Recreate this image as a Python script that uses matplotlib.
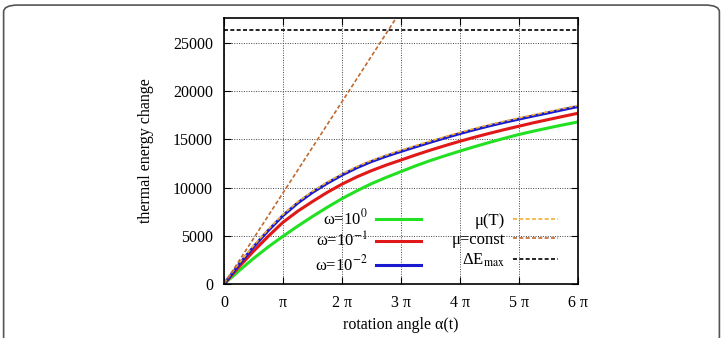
import numpy as np
import matplotlib.pyplot as plt
from matplotlib.patches import FancyBboxPatch

plt.rcParams['font.family'] = ['Liberation Serif', 'DejaVu Serif']
plt.rcParams['mathtext.fontset'] = 'stix'

# rotation angle in units of pi
alpha = [0, 0.25, 0.5, 0.75, 1, 1.25, 1.5, 1.75, 2, 2.25, 2.5, 2.75, 3,
         3.25, 3.5, 3.75, 4, 4.25, 4.5, 4.75, 5, 5.25, 5.5, 5.75, 6]
w_1 = [0, 1350, 2650, 3850, 4950, 6000, 7000, 7950, 8850, 9650, 10400, 11050, 11650,
       12250, 12800, 13300, 13780, 14240, 14680, 15100, 15500, 15850, 16180, 16500, 16800]
w_01 = [0, 1750, 3400, 4950, 6400, 7550, 8550, 9500, 10350, 11100, 11750, 12330, 12850,
        13380, 13880, 14350, 14800, 15220, 15620, 16000, 16360, 16720, 17050, 17380, 17700]
w_001 = [0, 2000, 3850, 5550, 7100, 8400, 9500, 10450, 11300, 12050, 12700, 13250, 13750,
         14230, 14700, 15160, 15600, 16010, 16400, 16760, 17100, 17430, 17750, 18080, 18400]
mu_T = [v + 120 for v in w_001]
alpha_const = [0, 3]
mu_const = [0, 28350]
dE_max = 26300

x = np.array(alpha) * np.pi
dash = (0, (2.4, 1.4))

fig = plt.figure(figsize=(7.23, 3.38), dpi=100)
fig.patches.append(FancyBboxPatch((0.005, -0.05), 0.99, 1.035, boxstyle='round,pad=0,rounding_size=0.02',
                                  transform=fig.transFigure, fc='none', ec='#555555', lw=1.2))
ax = fig.add_axes([0.31, 0.16, 0.489, 0.787])

h1, = ax.plot(x, w_1, color='#22e022', lw=2.2, label=r'ω=10$^{0}$')
h2, = ax.plot(x, w_01, color='#e01818', lw=2.2, label=r'ω=10$^{-1}$')
h3, = ax.plot(x, w_001, color='#1a1ad0', lw=2.2, label=r'ω=10$^{-2}$')
h4, = ax.plot(x, mu_T, color='#f0b030', lw=1.2, ls=dash, label='μ(T)')
h5, = ax.plot(np.array(alpha_const) * np.pi, mu_const, color='#c06a30', lw=1.2, ls=dash, label='μ=const')
h6 = ax.axhline(dE_max, color='black', lw=1.2, ls=dash, label=r'ΔE$_{\mathrm{max}}$')

ax.set_xlim(0, 6 * np.pi)
ax.set_ylim(0, 27600)
ax.set_xticks(np.arange(7) * np.pi)
ax.set_xticklabels(['0', 'π', '2 π', '3 π', '4 π', '5 π', '6 π'])
ax.set_yticks(np.arange(0, 25001, 5000))
ax.tick_params(direction='in', top=True, right=True, labelsize=11.5, length=5, pad=8)
ax.grid(True, color='#444444', ls=(0, (1, 1.5)), lw=0.7)
for s in ax.spines.values():
    s.set_linewidth(1.2)

ax.set_xlabel('rotation angle α(t)', fontsize=11.5, labelpad=4)
ax.set_ylabel('thermal energy change', fontsize=11.5, labelpad=14)

ax.legend(handles=[h1, h2, h3, h4, h5, h6], ncol=2, markerfirst=False, frameon=False,
          loc='lower right', bbox_to_anchor=(0.944, 0.035), borderaxespad=0, borderpad=0,
          fontsize=12, handlelength=2.7, handletextpad=0.5,
          columnspacing=1.8, labelspacing=0.2)

fig.savefig('out.png', dpi=100)
